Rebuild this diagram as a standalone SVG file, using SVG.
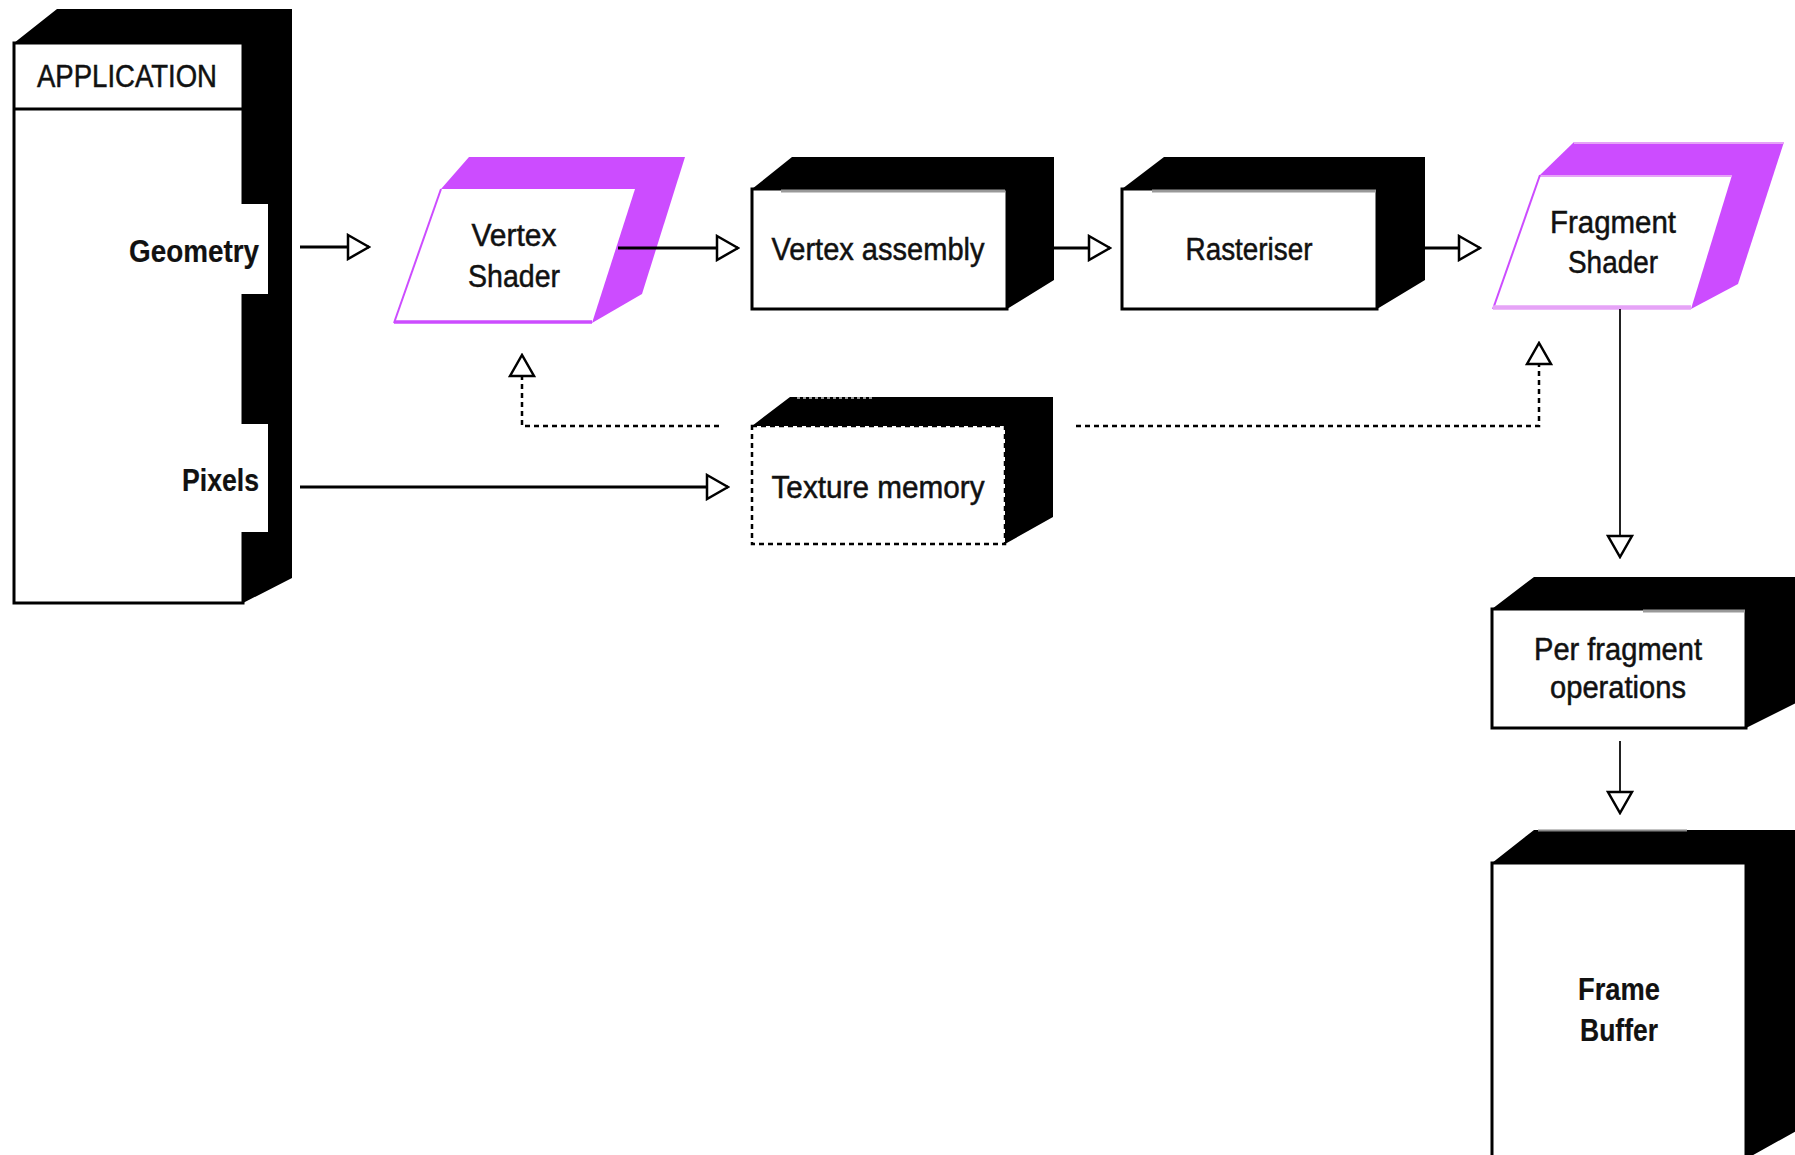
<svg xmlns="http://www.w3.org/2000/svg" width="1795" height="1155" viewBox="0 0 1795 1155">
<style>
.back{fill:#000}
.front{fill:#fff;stroke:#000;stroke-width:3}
.dfront{fill:#fff;stroke:#000;stroke-width:2.5;stroke-dasharray:5 4}
.gray{stroke:#999;stroke-width:3;fill:none}
.pink{fill:#cc4cff}
.lbl{font-family:"Liberation Sans",Arial,sans-serif;font-size:31px;fill:#111;stroke:#111;stroke-width:0.5;text-anchor:middle}
.b{font-weight:bold;stroke-width:0.2}
.conn{stroke:#000;stroke-width:3;fill:none}
.thin{stroke:#222;stroke-width:2;fill:none}
.dot{stroke:#000;stroke-width:2.5;fill:none;stroke-dasharray:5 4}
</style>
<defs>
<marker id="tri" viewBox="-2 -2 25 28" refX="21" refY="12" markerWidth="25" markerHeight="28" markerUnits="userSpaceOnUse" orient="auto">
<path d="M0,0 L21,12 L0,24 Z" fill="#fff" stroke="#000" stroke-width="2.5" stroke-dasharray="none"/>
</marker>
</defs>

<g id="application">
<polygon class="back" points="14,43 57,9 292,9 292,578 243,603 243,43"/>
<rect class="front" x="14" y="43" width="229" height="560"/>
<line x1="14" y1="109" x2="243" y2="109" stroke="#000" stroke-width="3"/>
<rect x="240" y="204" width="28" height="90" fill="#fff"/>
<rect x="240" y="424" width="28" height="108" fill="#fff"/>
<text class="lbl" x="127" y="87" textLength="180" lengthAdjust="spacingAndGlyphs">APPLICATION</text>
<text class="lbl b" x="194" y="262" textLength="130" lengthAdjust="spacingAndGlyphs">Geometry</text>
<text class="lbl b" x="220.5" y="491" textLength="77" lengthAdjust="spacingAndGlyphs">Pixels</text>
</g>

<g id="vertex-shader">
<polygon class="pink" points="394,323 441,189 469,157 685,157 642,294 592,323"/>
<polygon points="394,323 441,189 635,189 592,323" fill="#fff"/>
<line x1="394" y1="323" x2="441" y2="189" stroke="#cc4cff" stroke-width="2"/>
<line x1="394" y1="322" x2="592" y2="322" stroke="#cc4cff" stroke-width="3.5"/>
<text class="lbl" x="514" y="246" textLength="85" lengthAdjust="spacingAndGlyphs">Vertex</text>
<text class="lbl" x="514" y="287" textLength="92" lengthAdjust="spacingAndGlyphs">Shader</text>
</g>

<g id="vertex-assembly">
<polygon class="back" points="752,189 792,157 1054,157 1054,280 1007,309 1007,189"/>
<rect class="front" x="752" y="189" width="255" height="120"/>
<line class="gray" x1="781" y1="191" x2="1005" y2="191"/>
<text class="lbl" x="878" y="260" textLength="213" lengthAdjust="spacingAndGlyphs">Vertex assembly</text>
</g>

<g id="rasteriser">
<polygon class="back" points="1122,189 1164,157 1425,157 1425,280 1377,309 1377,189"/>
<rect class="front" x="1122" y="189" width="255" height="120"/>
<line class="gray" x1="1152" y1="191" x2="1376" y2="191"/>
<text class="lbl" x="1249" y="260" textLength="127" lengthAdjust="spacingAndGlyphs">Rasteriser</text>
</g>

<g id="fragment-shader">
<polygon class="pink" points="1493,309 1540,175 1574,142 1784,142 1738,284 1691,309"/>
<line x1="1574" y1="143" x2="1784" y2="143" stroke="#e6a3f7" stroke-width="2"/>
<polygon points="1493,309 1540,175 1732,175 1691,309" fill="#fff"/>
<line x1="1540" y1="176" x2="1732" y2="176" stroke="#e6a3f7" stroke-width="2"/>
<line x1="1493" y1="309" x2="1540" y2="175" stroke="#cc4cff" stroke-width="2"/>
<line x1="1493" y1="307.5" x2="1691" y2="307.5" stroke="#e6a3f7" stroke-width="4.5"/>
<text class="lbl" x="1613" y="233" textLength="126" lengthAdjust="spacingAndGlyphs">Fragment</text>
<text class="lbl" x="1613" y="273" textLength="90" lengthAdjust="spacingAndGlyphs">Shader</text>
</g>

<g id="texture-memory">
<polygon class="back" points="752,426 790,397 1053,397 1053,517 1005,544 1005,426"/>
<line x1="797" y1="398" x2="873" y2="398" stroke="#999" stroke-width="2" stroke-dasharray="3 3"/>
<rect class="dfront" x="752" y="426" width="253" height="118"/>
<text class="lbl" x="878" y="498" textLength="213" lengthAdjust="spacingAndGlyphs">Texture memory</text>
</g>

<g id="per-fragment-operations">
<polygon class="back" points="1492,609 1534,577 1800,577 1800,701 1746,728 1746,609"/>
<rect class="front" x="1492" y="609" width="254" height="119"/>
<line class="gray" x1="1643" y1="611" x2="1745" y2="611"/>
<text class="lbl" x="1618" y="660" textLength="168" lengthAdjust="spacingAndGlyphs">Per fragment</text>
<text class="lbl" x="1618" y="698" textLength="136" lengthAdjust="spacingAndGlyphs">operations</text>
</g>

<g id="frame-buffer">
<polygon class="back" points="1492,863 1534,830 1800,830 1800,1129 1746,1159 1746,863"/>
<line x1="1538" y1="830.5" x2="1687" y2="830.5" stroke="#888" stroke-width="2"/>
<rect class="front" x="1492" y="863" width="254" height="296"/>
<text class="lbl b" x="1619" y="1000" textLength="82" lengthAdjust="spacingAndGlyphs">Frame</text>
<text class="lbl b" x="1619" y="1041" textLength="78" lengthAdjust="spacingAndGlyphs">Buffer</text>
</g>

<g id="connectors">
<path class="conn" d="M300,247 H369" marker-end="url(#tri)"/>
<path class="conn" d="M618,248 H738" marker-end="url(#tri)"/>
<path class="conn" d="M1054,248 H1110" marker-end="url(#tri)"/>
<path class="conn" d="M1425,248 H1480" marker-end="url(#tri)"/>
<path class="thin" d="M1620,309 V557" marker-end="url(#tri)"/>
<path class="thin" d="M1620,741 V813" marker-end="url(#tri)"/>
<path class="conn" d="M300,487 H728" marker-end="url(#tri)"/>
<path class="dot" d="M719,426 H522 V355" marker-end="url(#tri)"/>
<path class="dot" d="M1076,426 H1539 V343" marker-end="url(#tri)"/>
</g>
</svg>
